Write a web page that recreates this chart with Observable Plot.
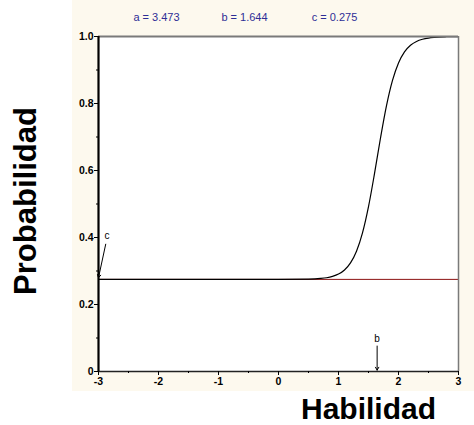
<!DOCTYPE html>
<html>
<head>
<meta charset="utf-8">
<script src="https://cdn.jsdelivr.net/npm/d3@7"></script>
<script src="https://cdn.jsdelivr.net/npm/@observablehq/plot@0.6"></script>
<style>
  html, body { margin: 0; padding: 0; background: #ffffff; }
  #wrap { position: relative; width: 474px; height: 425px; font-family: Arial, "Liberation Sans", sans-serif; }
  #cream { position: absolute; left: 72px; top: 0; width: 402px; height: 391px; background: #fdf9ee; }
  #wrap svg { position: absolute; left: 0; top: 0; }
</style>
</head>
<body>
<div id="wrap"><div id="cream"></div></div>
<script>
// Item parameters (3PL)
const paramNames = ["a", "b", "c"];
const paramValues = [3.473, 1.644, 0.275];

// Ability values and probability of the curve
const theta = [-3, -2, -1, 0, 0.5, 0.7, 0.8, 0.9, 1.0, 1.1, 1.2, 1.3, 1.4, 1.5, 1.6, 1.7, 1.8, 1.9, 2.0, 2.1, 2.2, 2.3, 2.4, 2.5, 2.6, 2.8, 3.0];
const prob  = [0.275, 0.275, 0.275, 0.275, 0.2758, 0.2777, 0.2799, 0.2839, 0.2908, 0.3031, 0.3242, 0.3591, 0.4138, 0.4921, 0.5906, 0.6970, 0.7936, 0.8689, 0.9210, 0.9540, 0.9738, 0.9852, 0.9917, 0.9954, 0.9974, 0.9992, 0.9998];

// Tick labels
const xTicks = [-3, -2, -1, 0, 1, 2, 3];
const xMinor = [-2.5, -1.5, -0.5, 0.5, 1.5, 2.5];
const yTicks = [0, 0.2, 0.4, 0.6, 0.8, 1.0];
const yTickLabels = ["0", "0.2", "0.4", "0.6", "0.8", "1.0"];
const yMinor = [0.1, 0.3, 0.5, 0.7, 0.9];

// Annotations (data coordinates)
const cArrow = [{x1: -2.88, y1: 0.38, x2: -3, y2: 0.28}];
const cLabel = [{x: -2.86, y: 0.405, t: "c"}];
const bArrow = [{x1: 1.644, y1: 0.076, x2: 1.644, y2: 0.004}];
const bLabel = [{x: 1.644, y: 0.098, t: "b"}];

const curve = theta.map((t, i) => ({theta: t, p: prob[i]}));
const params = paramNames.map((n, i) => ({label: `${n} = ${paramValues[i].toFixed(3)}`, i}));

const chart = Plot.plot({
  width: 474,
  height: 425,
  marginLeft: 98,
  marginRight: 16,
  marginTop: 36,
  marginBottom: 54,
  style: {background: "transparent", fontFamily: "Arial, 'Liberation Sans', sans-serif", color: "#000"},
  x: {domain: [-3, 3]},
  y: {domain: [0, 1]},
  marks: [
    Plot.frame({fill: "white", stroke: null}),
    // horizontal line at c
    Plot.ruleY([paramValues[2]], {stroke: "#8b1010", strokeWidth: 1}),
    // curve
    Plot.line(curve, {x: "theta", y: "p", curve: "monotone-x", stroke: "#000", strokeWidth: 1.2}),
    // frame borders
    Plot.ruleY([1], {stroke: "#7a7a7a", strokeWidth: 2}),
    Plot.ruleX([3], {stroke: "#7a7a7a", strokeWidth: 1.5}),
    Plot.ruleY([0], {stroke: "#222", strokeWidth: 1.5}),
    Plot.ruleX([-3], {stroke: "#000", strokeWidth: 2.2}),
    // axes
    Plot.axisX({ticks: xTicks, tickFormat: d => String(d), tickSize: 4, tickPadding: 2, fontSize: 10.5, fontWeight: "bold", label: null, stroke: "#000"}),
    Plot.axisX({ticks: xMinor, text: null, tickSize: 2, label: null}),
    Plot.axisY({ticks: yTicks, tickFormat: (d, i) => yTickLabels[i], tickSize: 4, tickPadding: 1, fontSize: 10.5, fontWeight: "bold", label: null}),
    Plot.axisY({ticks: yMinor, text: null, tickSize: 2, label: null}),
    // annotations
    Plot.arrow(cArrow, {x1: "x1", y1: "y1", x2: "x2", y2: "y2", stroke: "#000", strokeWidth: 1, headLength: 5, bend: 0}),
    Plot.text(cLabel, {x: "x", y: "y", text: "t", fontSize: 10, fill: "#000"}),
    Plot.arrow(bArrow, {x1: "x1", y1: "y1", x2: "x2", y2: "y2", stroke: "#000", strokeWidth: 1, headLength: 5, bend: 0}),
    Plot.text(bLabel, {x: "x", y: "y", text: "t", fontSize: 10, fill: "#000"}),
    // parameter header
    Plot.text(params, {text: "label", frameAnchor: "top-left", fontSize: 11, fill: "#2e2e96", textAnchor: "middle"}),
    // axis titles
    Plot.text(["Probabilidad"], {frameAnchor: "left", textAnchor: "middle", rotate: -90, dx: -72, dy: -3, fontSize: 31, fontWeight: "bold", fill: "#000"}),
    Plot.text(["Habilidad"], {frameAnchor: "bottom", textAnchor: "middle", dx: 90, dy: 47, fontSize: 30, fontWeight: "bold", fill: "#000"})
  ]
});

// position header labels along the top margin
d3.select(chart).selectAll("text").filter(function() { return /^[abc] = /.test(this.textContent); })
  .each(function(d, i) {
    const xs = [156, 244, 334];
    d3.select(this).attr("transform", null).attr("x", xs[i]).attr("y", 17).attr("dy", "0.32em");
  });

document.getElementById("wrap").appendChild(chart);
</script>
</body>
</html>
